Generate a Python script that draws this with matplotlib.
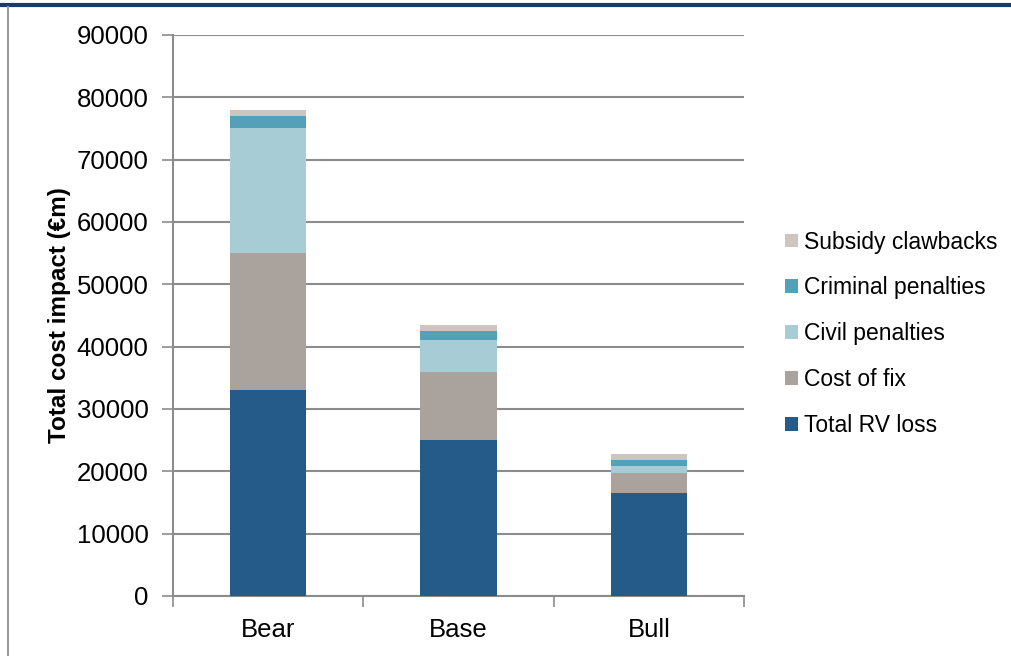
import matplotlib.pyplot as plt
import numpy as np
from matplotlib.lines import Line2D
from matplotlib.patches import Patch

scenarios = ["Bear", "Base", "Bull"]

rv_loss = [33000, 25000, 16500]
cost_of_fix = [22000, 11000, 3300]
civil_penalties = [20000, 5000, 1000]
criminal_penalties = [2000, 1500, 1000]
subsidy_clawbacks = [1000, 1000, 1000]

components = [
    ("Total RV loss", rv_loss, "#255B89"),
    ("Cost of fix", cost_of_fix, "#A9A29D"),
    ("Civil penalties", civil_penalties, "#A7CCD6"),
    ("Criminal penalties", criminal_penalties, "#55A0B9"),
    ("Subsidy clawbacks", subsidy_clawbacks, "#CDC5C0"),
]

y_ticks = np.arange(0, 90001, 10000)

plt.rcParams.update({
    "font.family": ["Liberation Sans", "DejaVu Sans"],
    "font.size": 18,
})

GRID = "#8C8C8C"

fig = plt.figure(figsize=(10.11, 6.56), dpi=100)
ax = fig.add_axes([0.1711, 0.0915, 0.5648, 0.8552])

x = np.arange(len(scenarios))
bottom = np.zeros(len(scenarios))
for label, values, color in components:
    ax.bar(x, values, width=0.4, bottom=bottom, color=color, label=label,
           linewidth=0, zorder=3)
    bottom += np.array(values)

ax.set_xlim(-0.5, len(scenarios) - 0.5)
ax.set_ylim(0, 90000)
ax.set_yticks(y_ticks)
ax.set_yticklabels([str(v) for v in y_ticks], fontsize=18.5)
ax.yaxis.grid(True, color=GRID, linewidth=1.5, zorder=0)
ax.set_axisbelow(True)

ax.set_xticks(x)
ax.set_xticklabels(scenarios, fontsize=18.5)
# category separators on the x axis
ax.set_xticks(np.arange(-0.5, len(scenarios)), minor=True)
ax.tick_params(axis="x", which="major", length=0, pad=16)
ax.tick_params(axis="x", which="minor", length=8, width=1.2, color=GRID, direction="out")
ax.tick_params(axis="y", length=8, width=1.2, color=GRID, pad=9.5)

for side in ("top", "right"):
    ax.spines[side].set_visible(False)
for side in ("left", "bottom"):
    ax.spines[side].set_color(GRID)
    ax.spines[side].set_linewidth(1.5)

ax.set_ylabel("Total cost impact (\u20acm)", fontsize=17.5, fontweight="bold", labelpad=4.5)

handles = [Patch(facecolor=c, edgecolor="none") for _, _, c in components][::-1]
labels = [name for name, _, _ in components][::-1]
fig.legend(handles, labels, loc="center left", bbox_to_anchor=(0.756, 0.491),
           frameon=False, handlelength=0.55, handleheight=0.55, handletextpad=0.3,
           labelspacing=1.0, fontsize=16.5)

# page frame around the chart
fig.add_artist(Line2D([0, 1], [0.9925, 0.9925], transform=fig.transFigure,
                      color="#1B3A66", linewidth=3))
fig.add_artist(Line2D([0.008, 0.008], [0, 0.99], transform=fig.transFigure,
                      color="#9A9A9A", linewidth=1.5))

fig.savefig("out.png", dpi=100)
